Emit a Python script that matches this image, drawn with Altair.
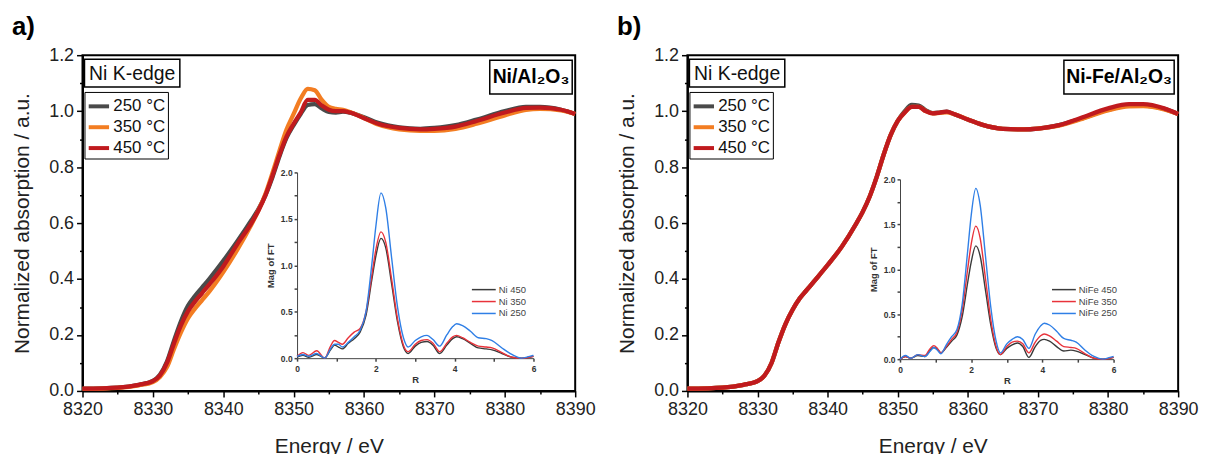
import altair as alt
import pandas as pd

FONT = "Liberation Sans"

# ---------------- main XANES data ----------------
energy = [8320, 8325, 8328, 8330, 8331, 8332, 8333, 8334, 8335, 8336, 8337, 8338,
          8340, 8342, 8344, 8345, 8346, 8347, 8348, 8349, 8350, 8351, 8352, 8353,
          8354, 8355, 8356, 8357, 8358, 8360, 8362, 8365, 8368, 8370, 8373, 8376,
          8380, 8383, 8385, 8388, 8390]

a_250 = [0.008, 0.012, 0.022, 0.036, 0.058, 0.105, 0.18, 0.25, 0.305, 0.34, 0.37, 0.40,
         0.465, 0.535, 0.61, 0.65, 0.70, 0.765, 0.84, 0.905, 0.95, 0.99, 1.022, 1.025,
         1.01, 0.997, 0.995, 0.998, 0.995, 0.978, 0.958, 0.942, 0.937, 0.94, 0.95, 0.97,
         1.0, 1.015, 1.015, 1.005, 0.99]
a_350 = [0.007, 0.011, 0.02, 0.032, 0.05, 0.085, 0.15, 0.21, 0.26, 0.295, 0.325, 0.355,
         0.425, 0.505, 0.595, 0.645, 0.705, 0.78, 0.86, 0.935, 0.99, 1.045, 1.08, 1.075,
         1.04, 1.015, 1.008, 1.005, 0.997, 0.975, 0.952, 0.935, 0.93, 0.93, 0.937, 0.955,
         0.985, 1.005, 1.008, 1.003, 0.99]
a_450 = [0.008, 0.012, 0.022, 0.035, 0.055, 0.10, 0.17, 0.235, 0.285, 0.32, 0.35, 0.38,
         0.445, 0.525, 0.60, 0.645, 0.70, 0.77, 0.845, 0.91, 0.955, 0.995, 1.04, 1.04,
         1.02, 1.005, 1.0, 1.0, 0.995, 0.975, 0.955, 0.94, 0.935, 0.937, 0.945, 0.965,
         0.995, 1.012, 1.013, 1.005, 0.99]

b_250 = [0.008, 0.012, 0.022, 0.035, 0.055, 0.10, 0.175, 0.24, 0.29, 0.33, 0.36, 0.39,
         0.45, 0.515, 0.595, 0.64, 0.695, 0.765, 0.845, 0.915, 0.965, 1.0, 1.022, 1.02,
         1.003, 0.993, 0.995, 0.998, 0.99, 0.97, 0.952, 0.937, 0.935, 0.938, 0.95, 0.972,
         1.005, 1.02, 1.02, 1.008, 0.99]
b_350 = [0.008, 0.012, 0.022, 0.035, 0.055, 0.10, 0.175, 0.24, 0.29, 0.33, 0.36, 0.39,
         0.45, 0.515, 0.595, 0.64, 0.695, 0.765, 0.845, 0.915, 0.965, 0.995, 1.015, 1.015,
         1.0, 0.992, 0.994, 0.996, 0.99, 0.97, 0.952, 0.937, 0.935, 0.938, 0.948, 0.97,
         1.003, 1.017, 1.018, 1.006, 0.99]
b_450 = [0.008, 0.012, 0.022, 0.035, 0.055, 0.10, 0.175, 0.24, 0.29, 0.33, 0.36, 0.39,
         0.45, 0.515, 0.595, 0.64, 0.695, 0.765, 0.845, 0.915, 0.965, 0.995, 1.015, 1.015,
         1.0, 0.992, 0.995, 0.998, 0.99, 0.97, 0.952, 0.937, 0.935, 0.938, 0.95, 0.975,
         1.01, 1.025, 1.025, 1.01, 0.99]

temps = ["250 °C", "350 °C", "450 °C"]
temp_colors = ["#4a4a4a", "#f37d22", "#c01a1e"]

# ---------------- inset FT data ----------------
r_vals = [0, 0.15, 0.3, 0.5, 0.7, 0.85, 0.95, 1.05, 1.15, 1.3, 1.45, 1.6, 1.75, 1.9,
          2.0, 2.13, 2.25, 2.4, 2.55, 2.7, 2.82, 3.0, 3.15, 3.3, 3.45, 3.62, 3.8, 3.95,
          4.05, 4.2, 4.4, 4.6, 4.8, 4.95, 5.2, 5.45, 5.7, 5.9, 6.0]

ni_450 = [0.01, 0.03, 0.01, 0.04, 0.0, 0.09, 0.14, 0.12, 0.10, 0.16, 0.21, 0.28, 0.46, 0.85,
          1.10, 1.29, 1.19, 0.80, 0.39, 0.12, 0.05, 0.13, 0.17, 0.18, 0.14, 0.05, 0.14, 0.21,
          0.23, 0.21, 0.16, 0.11, 0.10, 0.09, 0.05, 0.01, 0.0, 0.01, 0.02]
ni_350 = [0.02, 0.06, 0.03, 0.08, 0.0, 0.13, 0.19, 0.17, 0.15, 0.22, 0.28, 0.32, 0.50, 0.90,
          1.17, 1.36, 1.25, 0.85, 0.42, 0.14, 0.07, 0.15, 0.19, 0.20, 0.16, 0.07, 0.16, 0.23,
          0.245, 0.22, 0.17, 0.13, 0.12, 0.11, 0.06, 0.01, 0.0, 0.01, 0.02]
ni_250 = [0.02, 0.04, 0.02, 0.05, 0.0, 0.10, 0.15, 0.15, 0.12, 0.17, 0.23, 0.30, 0.50, 1.02,
          1.42, 1.78, 1.62, 1.08, 0.55, 0.22, 0.12, 0.19, 0.23, 0.245, 0.20, 0.13, 0.25, 0.34,
          0.37, 0.35, 0.29, 0.22, 0.21, 0.19, 0.11, 0.04, 0.0, 0.02, 0.03]

nife_450 = [0.0, 0.03, 0.01, 0.04, 0.03, 0.10, 0.13, 0.11, 0.07, 0.13, 0.20, 0.27, 0.48, 0.85,
            1.08, 1.26, 1.15, 0.77, 0.38, 0.12, 0.05, 0.12, 0.16, 0.18, 0.14, 0.02, 0.14, 0.21,
            0.22, 0.20, 0.14, 0.09, 0.10, 0.09, 0.05, 0.01, 0.0, 0.01, 0.02]
nife_350 = [0.0, 0.03, 0.01, 0.05, 0.04, 0.12, 0.15, 0.12, 0.07, 0.14, 0.22, 0.30, 0.55, 1.00,
            1.28, 1.48, 1.35, 0.90, 0.44, 0.14, 0.05, 0.14, 0.19, 0.20, 0.17, 0.07, 0.19, 0.26,
            0.28, 0.26, 0.20, 0.14, 0.13, 0.12, 0.06, 0.01, 0.0, 0.01, 0.02]
nife_250 = [0.0, 0.04, 0.01, 0.05, 0.03, 0.09, 0.13, 0.10, 0.06, 0.16, 0.25, 0.33, 0.62, 1.20,
            1.60, 1.90, 1.72, 1.15, 0.58, 0.20, 0.07, 0.17, 0.22, 0.25, 0.22, 0.12, 0.28, 0.37,
            0.40, 0.38, 0.31, 0.23, 0.21, 0.19, 0.10, 0.03, 0.0, 0.02, 0.03]

ft_colors = ["#3a3a3a", "#e8323a", "#2f7fe6"]


def long_main(series):
    rows = []
    for t, vals in zip(temps, series):
        for e, v in zip(energy, vals):
            rows.append({"E": e, "mu": v, "T": t})
    return pd.DataFrame(rows)


def long_ft(names, series):
    rows = []
    for n, vals in zip(names, series):
        for r, v in zip(r_vals, vals):
            rows.append({"R": r, "FT": v, "S": n})
    return pd.DataFrame(rows)


def panel(letter, main_series, ft_names, ft_series, sample, W, inset, leg_x, sample_box):
    ix0, ix1, iy_top, iy_bot = inset
    H = 338
    main_df = long_main(main_series)
    ft_df = long_ft(ft_names, ft_series)

    main = alt.Chart(main_df).mark_line(strokeWidth=4.3, interpolate="monotone").encode(
        x=alt.X("E:Q", scale=alt.Scale(domain=[8320, 8390], nice=False),
                axis=alt.Axis(values=list(range(8320, 8391, 5)), labelFlush=False,
                              labelExpr="datum.value % 10 === 0 ? datum.value : ''",
                              tickSize={"condition": {"test": "datum.value % 10 === 0", "value": 6}, "value": 3},
                              title="Energy / eV", titlePadding=17, labelPadding=4,
                              orient="bottom")),
        y=alt.Y("mu:Q", scale=alt.Scale(domain=[0, 1.2], nice=False),
                axis=alt.Axis(values=[i / 10 for i in range(0, 13)], labelFlush=False,
                              labelExpr="round(datum.value * 10) % 2 === 0 ? format(datum.value, '.1f') : ''",
                              tickSize={"condition": {"test": "round(datum.value * 10) % 2 === 0", "value": 6}, "value": 3},
                              title="Normalized absorption / a.u.", titlePadding=16, labelPadding=3,
                              orient="left")),
        color=alt.Color("T:N", scale=alt.Scale(domain=temps, range=temp_colors),
                        legend=alt.Legend(orient="none", legendX=2, legendY=37, title=None,
                                          symbolType="stroke", symbolStrokeWidth=4, symbolSize=420,
                                          labelFontSize=17, labelFont=FONT, labelColor="#111",
                                          strokeColor="black", fillColor="white", padding=2,
                                          rowPadding=0, labelOffset=2)),
        order=alt.Order("T:N"),
    )

    ins = alt.Chart(ft_df).mark_line(strokeWidth=1.4, interpolate="monotone").encode(
        x=alt.X("R:Q", scale=alt.Scale(domain=[0, 6], range=[ix0, ix1], nice=False),
                axis=alt.Axis(orient="bottom", offset=-(H - iy_bot), values=[0, 1, 2, 3, 4, 5, 6],
                              labelExpr="datum.value % 2 === 0 ? datum.value : ''", labelFlush=False,
                              tickSize=3, tickColor="#444", domainColor="#444", domainWidth=1,
                              labelFontSize=8.5, labelFontWeight="bold", labelColor="#333",
                              labelPadding=3, title="R", titleFontSize=9.5, titleFontWeight="bold",
                              titleColor="#333", titlePadding=2)),
        y=alt.Y("FT:Q", scale=alt.Scale(domain=[0, 2], range=[iy_bot, iy_top], nice=False),
                axis=alt.Axis(orient="left", offset=-ix0, values=[i * 0.25 for i in range(9)],
                              labelExpr="round(datum.value * 4) % 2 === 0 ? format(datum.value, '.1f') : ''",
                              labelFlush=False,
                              tickSize=3, tickColor="#444", domainColor="#444", domainWidth=1,
                              labelFontSize=8.5, labelFontWeight="bold", labelColor="#333",
                              labelPadding=2, title="Mag of FT", titleFontSize=9.5,
                              titleFontWeight="bold", titleColor="#333", titlePadding=5)),
        color=alt.Color("S:N", scale=alt.Scale(domain=ft_names, range=ft_colors),
                        legend=alt.Legend(orient="none", legendX=leg_x, legendY=229, title=None,
                                          symbolType="M-2,0H2", symbolStrokeWidth=1.5, symbolSize=144,
                                          labelFontSize=9.5, labelFont=FONT, labelColor="#444",
                                          padding=0, rowPadding=0, labelOffset=8)),
    )

    one = pd.DataFrame({"k": [0]})
    kbox = alt.Chart(one).mark_rect(fill="white", stroke="black", strokeWidth=1.5).encode(
        x=alt.value(2), x2=alt.value(98), y=alt.value(4), y2=alt.value(32))
    ktext = alt.Chart(one).mark_text(text="Ni K-edge", font=FONT, fontSize=19.5, color="#111",
                                     align="center", baseline="middle").encode(
        x=alt.value(50), y=alt.value(19))
    sx0, sx1 = sample_box
    sbox = alt.Chart(one).mark_rect(fill="white", stroke="black", strokeWidth=1.5).encode(
        x=alt.value(sx0), x2=alt.value(sx1), y=alt.value(5), y2=alt.value(39))
    stext = alt.Chart(one).mark_text(text=sample, font=FONT, fontSize=19.5, fontWeight="bold",
                                     color="black", align="center", baseline="middle").encode(
        x=alt.value((sx0 + sx1) / 2), y=alt.value(22))

    return alt.layer(main, ins, kbox, ktext, sbox, stext).resolve_scale(
        x="independent", y="independent", color="independent"
    ).properties(
        width=W, height=H,
        title=alt.Title(letter, anchor="start", frame="bounds", fontSize=26, fontWeight="bold",
                        font=FONT, color="black", offset=6),
    )


pa = panel("a)", [a_250, a_350, a_450], ["Ni 450", "Ni 350", "Ni 250"],
           [ni_450, ni_350, ni_250], "Ni/Al₂O₃", 496, (216, 454, 118, 305), 397, (410, 493))
pb = panel("b)", [b_250, b_350, b_450], ["NiFe 450", "NiFe 350", "NiFe 250"],
           [nife_450, nife_350, nife_250], "Ni-Fe/Al₂O₃", 494, (214, 429, 125, 306), 372, (379, 490))

chart = alt.hconcat(pa, pb, spacing=18).properties(
    padding={"left": 2, "top": 4, "right": 0, "bottom": 0}
).configure_view(stroke="black", strokeWidth=2).configure_axis(
    grid=False, labelFont=FONT, titleFont=FONT, labelFontSize=18, titleFontSize=21,
    labelColor="#222", titleColor="#222", domainColor="black", domainWidth=2,
    tickColor="black", tickWidth=1.5, titleFontWeight="normal"
)

chart.save("out.html", embed_options={"renderer": "svg", "actions": False})
